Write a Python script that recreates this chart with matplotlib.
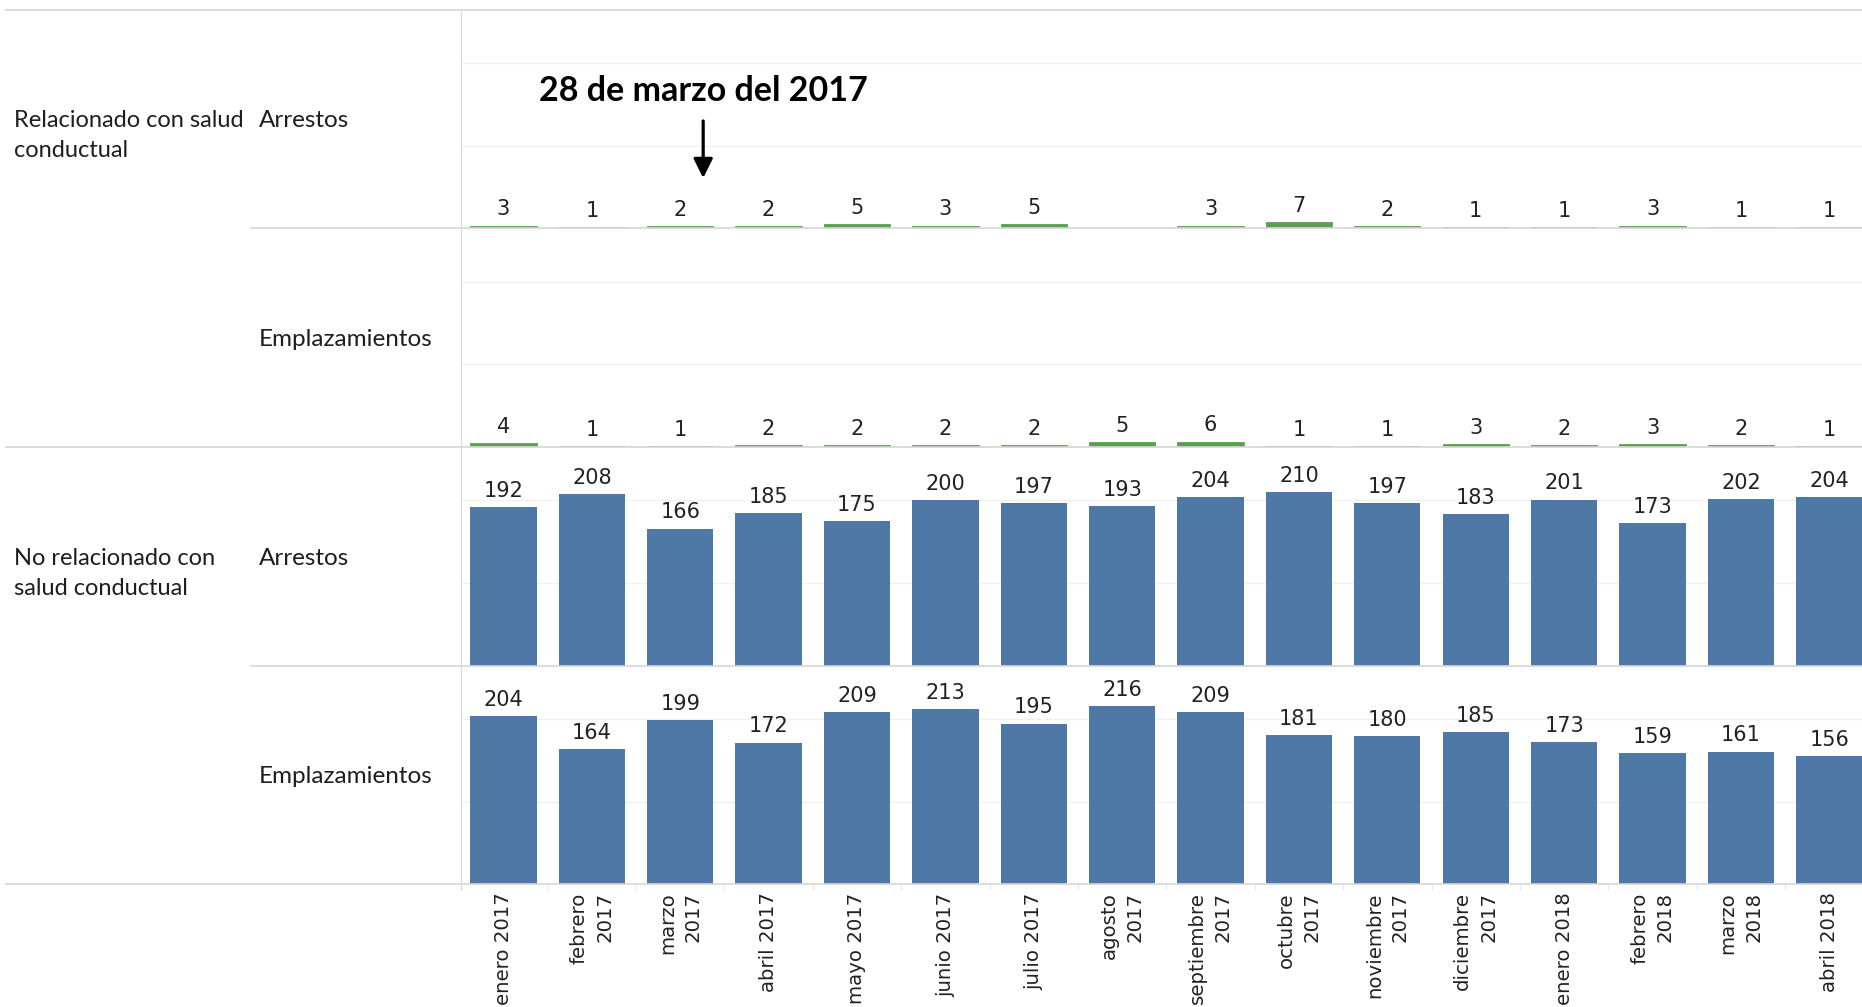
import numpy as np
import matplotlib
matplotlib.use("Agg")
import matplotlib.pyplot as plt
from matplotlib.lines import Line2D

# ---------------- data ----------------
months = ["enero 2017", "febrero\n2017", "marzo\n2017", "abril 2017", "mayo 2017",
          "junio 2017", "julio 2017", "agosto\n2017", "septiembre\n2017", "octubre\n2017",
          "noviembre\n2017", "diciembre\n2017", "enero 2018", "febrero\n2018",
          "marzo\n2018", "abril 2018"]

rel_arrestos = [3, 1, 2, 2, 5, 3, 5, np.nan, 3, 7, 2, 1, 1, 3, 1, 1]
rel_emplazamientos = [4, 1, 1, 2, 2, 2, 2, 5, 6, 1, 1, 3, 2, 3, 2, 1]
norel_arrestos = [192, 208, 166, 185, 175, 200, 197, 193, 204, 210, 197, 183, 201, 173, 202, 204]
norel_emplazamientos = [204, 164, 199, 172, 209, 213, 195, 216, 209, 181, 180, 185, 173, 159, 161, 156]

section_labels = [["Relacionado con salud", "conductual"], ["No relacionado con", "salud conductual"]]
measure_labels = ["Arrestos", "Emplazamientos", "Arrestos", "Emplazamientos"]
annotation_text = "28 de marzo del 2017"
annotation_x = 2.26  # position of 28 March on the month axis

# ---------------- layout ----------------
W, H = 1862, 1007
fig = plt.figure(figsize=(W / 100, H / 100), dpi=100)

def fy(ypx):
    return 1 - ypx / H

def fx(xpx):
    return xpx / W

edges = [9.5, 228, 446.5, 666, 884]
left_px = 461
series = [rel_arrestos, rel_emplazamientos, norel_arrestos, norel_emplazamientos]
colors = ["#59A14F", "#59A14F", "#4E79A7", "#4E79A7"]
x = np.arange(len(months))
YMAX = 265

num_font = dict(family="DejaVu Sans", size=15, color="#222222")
lab_font = dict(family="Lato", size=17.5, color="#1e1e1e")
sec_font = dict(family="Lato", size=17, color="#1e1e1e")

axes = []
for i in range(4):
    top, bot = edges[i], edges[i + 1]
    ax = fig.add_axes([fx(left_px), fy(bot), 1 - fx(left_px), (bot - top) / H])
    axes.append(ax)
    vals = np.array(series[i], dtype=float)
    if i < 2:
        ax.bar(x, np.nan_to_num(vals), width=0.75, color=colors[i], edgecolor=colors[i],
               linewidth=0.6, zorder=3)
    else:
        ax.bar(x, np.nan_to_num(vals), width=0.75, color=colors[i], zorder=3)
    for xi, v in zip(x, vals):
        if not np.isnan(v):
            ax.annotate(f"{int(v)}", xy=(xi, v), xytext=(0, 7.3), textcoords="offset points",
                        ha="center", va="baseline", **num_font)
    ax.set_xlim(-0.48, 15.37)
    ax.set_ylim(0, YMAX)
    ax.set_yticks([100, 200])
    ax.yaxis.grid(True, color="#F0F0F0", lw=1.0, zorder=0)
    ax.tick_params(axis="y", left=False, labelleft=False)
    for s in ax.spines.values():
        s.set_visible(False)
    ax.set_xticks(x)
    if i < 3:
        ax.tick_params(axis="x", bottom=False, labelbottom=False)
    else:
        ax.set_xticklabels(months, rotation=90, ma="right", linespacing=1.45,
                           family="DejaVu Sans", fontsize=14.2, color="#222222")
        ax.tick_params(axis="x", length=0, pad=6)
        ax.set_xticks(x[:-1] + 0.5, minor=True)
        ax.tick_params(axis="x", which="minor", length=4.5, width=1, color="#E6E6E6")

# annotation in top panel
ax0 = axes[0]
ax0.annotate("", xy=(annotation_x, 60.6), xytext=(annotation_x, 129.8),
             arrowprops=dict(arrowstyle="-|>,head_length=0.58,head_width=0.29",
                             mutation_scale=20, lw=2.3, color="black",
                             shrinkA=0, shrinkB=0), zorder=5)
ax0.text(annotation_x, 154.6, annotation_text, ha="center", va="baseline",
         family="Lato", fontweight="bold", fontsize=24.5, color="black")

# separator lines
line_c = "#D6D6D6"
def hline(ypx, x0px):
    fig.add_artist(Line2D([fx(x0px), 1], [fy(ypx), fy(ypx)], color=line_c, lw=1.2))

hline(9.5, 6)
hline(228, 251)
hline(446.5, 6)
hline(666, 251)
hline(884, 6)
fig.add_artist(Line2D([fx(left_px), fx(left_px)], [fy(9.5), fy(890)], color="#DCDCDC", lw=0.9))

# row labels
for i, lab in enumerate(measure_labels):
    c = (edges[i] + edges[i + 1]) / 2
    fig.text(fx(259), fy(c + 8.4), lab, ha="left", va="baseline", **lab_font)
for k, lines in enumerate(section_labels):
    c = (edges[2 * k] + edges[2 * k + 1]) / 2
    for j, line in enumerate(lines):
        fig.text(fx(14), fy(c + 8.4 + 30 * j), line, ha="left", va="baseline", **sec_font)

fig.savefig("out.png", dpi=100)
